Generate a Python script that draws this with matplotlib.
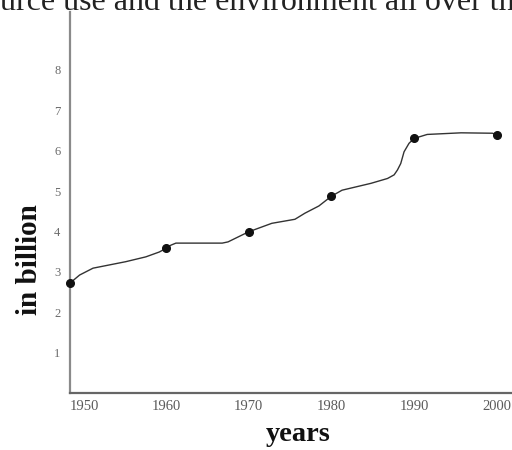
import numpy as np
import matplotlib
matplotlib.use("Agg")
import matplotlib.pyplot as plt

# Data
years = [1950, 1960, 1970, 1980, 1990, 2000]
population = [2.72, 3.58, 3.99, 4.87, 6.30, 6.39]

# hand-drawn curve
curve_years = [1950.0, 1951.0, 1952.4, 1955.8, 1957.9, 1959.3, 1960.0, 1960.6, 1961.2, 1966.8,
               1967.5, 1968.0, 1970.0, 1972.8, 1975.6, 1976.8, 1978.5, 1980.0, 1981.3, 1984.8,
               1986.8, 1987.6, 1988.0, 1988.4, 1988.8, 1989.4, 1990.0, 1991.6, 1995.7, 1999.5, 2000.0]
curve_values = [2.72, 2.92, 3.09, 3.25, 3.37, 3.49, 3.58, 3.66, 3.71, 3.71,
                3.74, 3.79, 3.99, 4.20, 4.30, 4.45, 4.63, 4.87, 5.02, 5.19,
                5.31, 5.40, 5.52, 5.68, 5.97, 6.18, 6.30, 6.40, 6.44, 6.43, 6.39]

y_ticks = [1, 2, 3, 4, 5, 6, 7, 8]
x_ticks = [1950, 1960, 1970, 1980, 1990, 2000]
top_text = "urce use and the environment all over the"

serif = ["Liberation Serif", "DejaVu Serif"]

fig = plt.figure(figsize=(5.12, 4.5), dpi=100)
ax = fig.add_axes([70 / 512, 57 / 450, 442 / 512, 381 / 450])

# the drawn x axis is slightly stretched in its first decade
def fwd(x):
    x = np.asarray(x, float)
    return np.where(x < 1960, (x - 1950) * 9.6, 96 + (x - 1960) * 8.265)

def inv(u):
    u = np.asarray(u, float)
    return np.where(u < 96, 1950 + u / 9.6, 1960 + (u - 96) / 8.265)

ax.set_xscale("function", functions=(fwd, inv))

ax.plot(curve_years, curve_values, color="#333333", lw=1.0, solid_capstyle="round",
        solid_joinstyle="round", clip_on=False, zorder=3)
ax.plot(years, population, "o", color="#111111", ms=5.5, clip_on=False, zorder=4)

ax.set_xlim(1950, 2001.86)
ax.set_ylim(0, 381 / 40.4)

for s in ["top", "right"]:
    ax.spines[s].set_visible(False)
ax.spines["left"].set_color("#8a8a8a")
ax.spines["left"].set_linewidth(1.6)
ax.spines["bottom"].set_color("#666666")
ax.spines["bottom"].set_linewidth(1.6)

ax.set_yticks(y_ticks)
ax.set_yticklabels([str(v) for v in y_ticks], family=serif, fontsize=9, color="#6a6a6a")
ax.set_xticks(x_ticks)
ax.set_xticklabels([str(v) for v in x_ticks], family=serif, fontsize=10.5, color="#5a5a5a")
ax.xaxis.set_minor_locator(matplotlib.ticker.NullLocator())
ax.tick_params(axis="y", length=0, pad=7)
ax.tick_params(axis="x", length=0, pad=5)
ax.get_xticklabels()[0].set_horizontalalignment("left")

ax.set_xlabel("years", family=serif, fontsize=20.5, fontweight="bold", color="#111111")
ax.xaxis.set_label_coords((298 - 70) / 442, -0.075)
ax.set_ylabel("in billion", family=serif, fontsize=21, fontweight="bold", color="#111111")
ax.yaxis.set_label_coords(-(70 - 43) / 442, (393 - 260) / 381)

fig.text(0.0, 1 - 10 / 450, top_text, family=serif, fontsize=23, color="#222222",
         ha="left", va="baseline")

fig.savefig("out.png", dpi=100)
